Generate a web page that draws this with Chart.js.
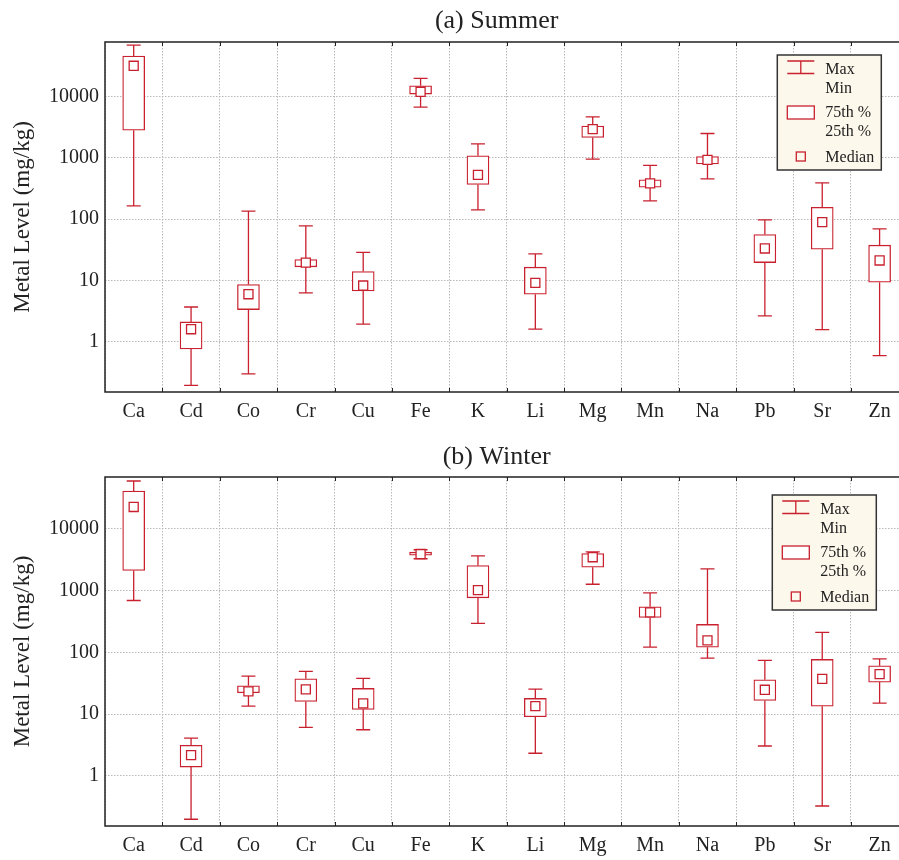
<!DOCTYPE html>
<html>
<head>
<meta charset="utf-8">
<script src="https://cdn.jsdelivr.net/npm/chart.js@4.4.0/dist/chart.umd.min.js"></script>
<style>
  html, body { margin: 0; padding: 0; background: #fff; overflow: hidden; width: 899px; height: 860px; }
  canvas { display: block; }
</style>
</head>
<body>
<canvas id="summer" width="916" height="430"></canvas>
<canvas id="winter" width="916" height="430"></canvas>
<script>
const metals = ["Ca", "Cd", "Co", "Cr", "Cu", "Fe", "K", "Li", "Mg", "Mn", "Na", "Pb", "Sr", "Zn"];
const yTicks = [1, 10, 100, 1000, 10000];

const summerMin    = [164, 0.193, 0.296, 6.22, 1.92, 6730, 141, 1.59, 953, 198, 454, 2.62, 1.57, 0.59];
const summerQ1     = [2830, 0.757, 3.33, 16.6, 6.71, 11000, 367, 5.93, 2150, 332, 798, 19.5, 32.2, 9.31];
const summerMedian = [31900, 1.59, 5.93, 19.5, 8.22, 12000, 527, 9.07, 2940, 382, 926, 33.1, 89, 21.1];
const summerQ3     = [45900, 2.09, 8.54, 21.9, 13.9, 15000, 1080, 16.4, 3300, 437, 1050, 56, 156, 37.5];
const summerMax    = [69500, 3.67, 135, 77.4, 28.5, 19800, 1690, 27.0, 4680, 751, 2500, 97, 391, 69.2];

const winterMin    = [692, 0.197, 13.4, 6.08, 5.56, 3290, 294, 2.31, 1270, 121, 80.5, 3.03, 0.323, 15.0];
const winterQ1     = [2120, 1.38, 22.1, 16.0, 11.9, 3750, 764, 9.02, 2400, 367, 121, 16.6, 13.4, 32.9];
const winterMedian = [22700, 2.16, 23.3, 25.1, 14.9, 3920, 1020, 13.4, 3480, 443, 156, 24.7, 37.2, 44.4];
const winterQ3     = [41200, 3.11, 28.7, 37.2, 26.0, 4200, 2550, 17.9, 4000, 546, 283, 35.9, 76.7, 60.4];
const winterMax    = [59900, 4.08, 41.2, 49.1, 37.8, 4600, 3650, 25.4, 4240, 920, 2250, 73.9, 210, 78.5];

const RED = "#c8202e";
const INK = "#222";
const SERIF = "'Liberation Serif', 'Times New Roman', serif";
Chart.defaults.font.family = SERIF;
Chart.defaults.color = INK;

// whiskers, frame, title and the little legend box
const boxPlotExtras = {
  id: "boxPlotExtras",
  beforeDatasetsDraw(chart, args, opts) {
    const { ctx, scales: { x, y } } = chart;
    ctx.save();
    ctx.strokeStyle = RED;
    ctx.lineWidth = 1.3;
    opts.min.forEach((mn, i) => {
      const px = x.getPixelForValue(i);
      const yMin = y.getPixelForValue(mn), yQ1 = y.getPixelForValue(opts.q1[i]);
      const yQ3 = y.getPixelForValue(opts.q3[i]), yMax = y.getPixelForValue(opts.max[i]);
      ctx.beginPath();
      ctx.moveTo(px, yQ3); ctx.lineTo(px, yMax);
      ctx.moveTo(px - 7, yMax); ctx.lineTo(px + 7, yMax);
      ctx.moveTo(px, yQ1); ctx.lineTo(px, yMin);
      ctx.moveTo(px - 7, yMin); ctx.lineTo(px + 7, yMin);
      ctx.stroke();
    });
    ctx.restore();
  },
  afterDraw(chart, args, opts) {
    const { ctx, chartArea: a, scales: { x } } = chart;
    ctx.save();
    // frame
    ctx.strokeStyle = INK;
    ctx.lineWidth = 1.5;
    ctx.strokeRect(a.left, a.top, a.right - a.left, a.bottom - a.top);
    ctx.lineWidth = 1;
    for (let i = 1; i < metals.length; i++) {
      const bx = Math.round((x.getPixelForValue(i - 1) + x.getPixelForValue(i)) / 2) + 0.5;
      ctx.beginPath();
      ctx.moveTo(bx, a.top); ctx.lineTo(bx, a.top + 4);
      ctx.moveTo(bx, a.bottom); ctx.lineTo(bx, a.bottom - 4);
      ctx.stroke();
    }
    // title
    ctx.fillStyle = INK;
    ctx.font = "26px " + SERIF;
    ctx.textAlign = "center";
    ctx.textBaseline = "alphabetic";
    ctx.fillText(opts.title, (a.left + a.right) / 2 - 10, opts.titleBaseline);

    // legend
    const lw = 104, lh = 115;
    const lx = a.right - opts.legendRight - lw, ly = a.top + opts.legendTop;
    ctx.fillStyle = "#fdf8ec";
    ctx.fillRect(lx, ly, lw, lh);
    ctx.strokeStyle = "#333";
    ctx.lineWidth = 1.5;
    ctx.strokeRect(lx, ly, lw, lh);

    ctx.strokeStyle = RED;
    ctx.lineWidth = 1.3;
    const gx0 = lx + 10, gx1 = lx + 37, gxm = (gx0 + gx1) / 2;
    ctx.beginPath();
    ctx.moveTo(gx0, ly + 6); ctx.lineTo(gx1, ly + 6);
    ctx.moveTo(gx0, ly + 18.5); ctx.lineTo(gx1, ly + 18.5);
    ctx.moveTo(gxm, ly + 6); ctx.lineTo(gxm, ly + 18.5);
    ctx.stroke();
    ctx.fillStyle = "#fff";
    ctx.fillRect(gx0, ly + 51, gx1 - gx0, 13);
    ctx.strokeRect(gx0, ly + 51, gx1 - gx0, 13);
    ctx.strokeRect(gxm - 4.5, ly + 97, 9, 9);

    ctx.fillStyle = INK;
    ctx.font = "16px " + SERIF;
    ctx.textAlign = "left";
    ctx.textBaseline = "middle";
    const tx = lx + 48;
    ctx.fillText("Max", tx, ly + 14.5);
    ctx.fillText("Min", tx, ly + 33.5);
    ctx.fillText("75th %", tx, ly + 58);
    ctx.fillText("25th %", tx, ly + 76.5);
    ctx.fillText("Median", tx, ly + 102.5);
    ctx.restore();
  }
};

function makeChart(id, title, mins, q1s, medians, q3s, maxs, yRange, layout) {
  const boxes = q1s.map((q, i) => [q, q3s[i]]);
  return new Chart(document.getElementById(id), {
    type: "bar",
    data: {
      labels: metals,
      datasets: [
        {
          type: "line",
          label: "Median",
          data: medians,
          showLine: false,
          pointStyle: "rect",
          pointRadius: 6.4,
          pointBorderWidth: 1.3,
          pointBorderColor: RED,
          pointBackgroundColor: "#fff",
          order: 0
        },
        {
          label: "25th-75th %",
          data: boxes,
          backgroundColor: "#fff",
          borderColor: RED,
          borderWidth: 1.3,
          borderSkipped: false,
          barThickness: 22,
          grouped: false,
          order: 1
        }
      ]
    },
    options: {
      responsive: false,
      animation: false,
      layout: { padding: { top: layout.top, right: 2, left: 0, bottom: 0 } },
      plugins: {
        legend: { display: false },
        tooltip: { enabled: false },
        boxPlotExtras: {
          title: title,
          titleBaseline: layout.titleBaseline,
          legendRight: layout.legendRight,
          legendTop: layout.legendTop,
          min: mins, q1: q1s, q3: q3s, max: maxs
        }
      },
      scales: {
        x: {
          offset: true,
          grid: { offset: true, color: "#b8b8b8", lineWidth: 1, drawTicks: false },
          border: { display: false, dash: [1.5, 1.5] },
          ticks: { font: { size: 20 }, color: INK, padding: 8 },
          afterFit: (s) => { s.height = layout.xAxisHeight; }
        },
        y: {
          type: "logarithmic",
          min: yRange[0],
          max: yRange[1],
          afterBuildTicks: (s) => { s.ticks = yTicks.map(v => ({ value: v })); },
          grid: { color: "#b8b8b8", lineWidth: 1, drawTicks: false },
          border: { display: false, dash: [1.5, 1.5] },
          ticks: { font: { size: 20 }, color: INK, padding: 6, callback: (v) => String(v) },
          title: { display: true, text: "Metal Level (mg/kg)", font: { size: 23 }, color: INK, padding: { top: 9, bottom: 0 } },
          afterFit: (s) => { s.width = 105; }
        }
      }
    },
    plugins: [boxPlotExtras]
  });
}

makeChart("summer", "(a) Summer", summerMin, summerQ1, summerMedian, summerQ3, summerMax,
  [0.15, 78000], { top: 42, xAxisHeight: 38, titleBaseline: 28, legendRight: 27, legendTop: 13 });
makeChart("winter", "(b) Winter", winterMin, winterQ1, winterMedian, winterQ3, winterMax,
  [0.153, 69500], { top: 47, xAxisHeight: 34, titleBaseline: 34, legendRight: 32, legendTop: 18 });
</script>
</body>
</html>
